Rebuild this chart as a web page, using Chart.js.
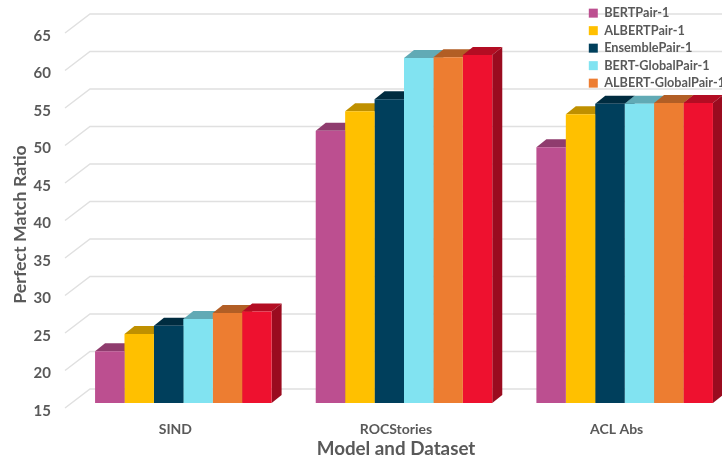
<!DOCTYPE html>
<html>
<head>
<meta charset="utf-8">
<script src="https://cdn.jsdelivr.net/npm/chart.js@4"></script>
<style>
  html, body { margin: 0; padding: 0; background: #fff; overflow: hidden; }
  #wrap { width: 722px; height: 462px; overflow: hidden; }
  canvas { display: block; }
</style>
</head>
<body>
<div id="wrap"><canvas id="chart" width="760" height="462"></canvas></div>
<script>
const categories = ["SIND", "ROCStories", "ACL Abs"];
const seriesNames = ["BERTPair-1", "ALBERTPair-1", "EnsemblePair-1", "BERT-GlobalPair-1", "ALBERT-GlobalPair-1", ""];
const bertPair = [21.9, 51.3, 49.1];
const albertPair = [24.2, 53.9, 53.5];
const ensemblePair = [25.3, 55.5, 54.9];
const bertGlobalPair = [26.2, 61.0, 54.9];
const albertGlobalPair = [27.0, 61.1, 55.0];
const lastPair = [27.2, 61.4, 55.0];
const frontColors = ["#BC4F90", "#FFC000", "#003F5C", "#81E3F1", "#ED7D31", "#EE112F"];
const topColors = ["#8F3C6E", "#BF9000", "#002C40", "#61AAB5", "#B25E25", "#B30D23"];
const sideColors = ["#7E3460", "#A67D00", "#002638", "#54949E", "#9B5120", "#9A0B1F"];
const yTicks = [15, 20, 25, 30, 35, 40, 45, 50, 55, 60, 65];

const DEPTH_X = 10, DEPTH_Y = 8;      // bar depth
const WALL_X = 17, WALL_Y = 14;       // back wall offset from bar plane
const FLOOR_X = -8, FLOOR_Y = 5;      // front edge offset from bar plane

const allValues = [bertPair, albertPair, ensemblePair, bertGlobalPair, albertGlobalPair, lastPair];

function face(ctx, pts, color) {
  ctx.fillStyle = color;
  ctx.beginPath();
  pts.forEach((p, i) => (i ? ctx.lineTo(p[0], p[1]) : ctx.moveTo(p[0], p[1])));
  ctx.closePath();
  ctx.fill();
}

const box3d = {
  id: "box3d",
  afterLayout(chart) {
    // legend sits top right over the wall, axis titles are off the axis centre
    const lg = chart.legend;
    lg.left = 584; lg.right = 760; lg.top = 2; lg.bottom = 400;
    chart.scales.x.right -= 16;
    chart.scales.y.top += 18;
  },
  beforeDraw(chart) {
    // wall gridlines with the little diagonal to the front edge, under the legend
    const ctx = chart.ctx;
    const y = chart.scales.y;
    ctx.save();
    ctx.strokeStyle = "#E0E0E0";
    ctx.lineWidth = 1.5;
    yTicks.forEach((t) => {
      const py = y.getPixelForValue(t);
      ctx.beginPath();
      ctx.moveTo(chart.chartArea.left + FLOOR_X, py + FLOOR_Y);
      ctx.lineTo(chart.chartArea.left + WALL_X, py - WALL_Y);
      ctx.lineTo(760, py - WALL_Y);
      ctx.stroke();
    });
    ctx.restore();
  },
  beforeDatasetsDraw(chart) {
    const ctx = chart.ctx;
    const floor = chart.scales.y.getPixelForValue(yTicks[0]);
    ctx.save();
    // top and side faces, left to right so the neighbour covers them
    categories.forEach((c, ci) => {
      chart.data.datasets.forEach((ds, di) => {
        const bar = chart.getDatasetMeta(di).data[ci];
        const l = bar.x - bar.width / 2, r = bar.x + bar.width / 2;
        face(ctx, [[l, bar.y], [l + DEPTH_X, bar.y - DEPTH_Y], [r + DEPTH_X, bar.y - DEPTH_Y], [r, bar.y]], topColors[di]);
        face(ctx, [[r, bar.y], [r + DEPTH_X, bar.y - DEPTH_Y], [r + DEPTH_X, floor - DEPTH_Y], [r, floor]], sideColors[di]);
      });
    });
    ctx.restore();
  },
};

new Chart(document.getElementById("chart"), {
  type: "bar",
  data: {
    labels: categories,
    datasets: allValues.map((vals, i) => ({
      label: seriesNames[i],
      data: vals,
      backgroundColor: frontColors[i],
      borderWidth: 0,
    })),
  },
  plugins: [box3d],
  options: {
    responsive: false,
    animation: false,
    devicePixelRatio: 1,
    layout: { padding: { left: 0, right: 25, top: 28, bottom: 0 } },
    datasets: { bar: { categoryPercentage: 0.8, barPercentage: 1 } },
    plugins: {
      tooltip: { enabled: false },
      legend: {
        position: "chartArea",
        align: "start",
        labels: {
          filter: (item) => item.text !== "",
          boxWidth: 9,
          boxHeight: 9,
          padding: 4.8,
          color: "#595959",
          font: { family: "Lato", size: 12.7, weight: "bold" },
        },
      },
    },
    scales: {
      x: {
        grid: { display: false },
        border: { display: false },
        afterFit(scale) { scale.height = 59; },
        ticks: { color: "#595959", padding: 10, labelOffset: -8, font: { family: "Lato", size: 14, weight: "bold" } },
        title: { display: true, text: "Model and Dataset", color: "#595959", padding: { top: 3, bottom: 2 }, font: { family: "Lato", size: 18.8, weight: "bold" } },
      },
      y: {
        min: 15,
        max: 65,
        grid: { display: false, drawTicks: false },
        border: { display: false },
        afterFit(scale) {
          scale.width = 73;
          // tick padding would otherwise push the plot top down
          scale.paddingTop = 0;
          scale.paddingBottom = 0;
        },
        afterBuildTicks(scale) { scale.ticks = yTicks.map((v) => ({ value: v })); },
        ticks: { color: "#595959", padding: 22, labelOffset: 8, font: { family: "Lato", size: 15, weight: "bold" } },
        title: { display: true, text: "Perfect Match Ratio", color: "#595959", padding: { top: 10, bottom: 0 }, font: { family: "Lato", size: 17.8, weight: "bold" } },
      },
    },
  },
});
</script>
</body>
</html>
